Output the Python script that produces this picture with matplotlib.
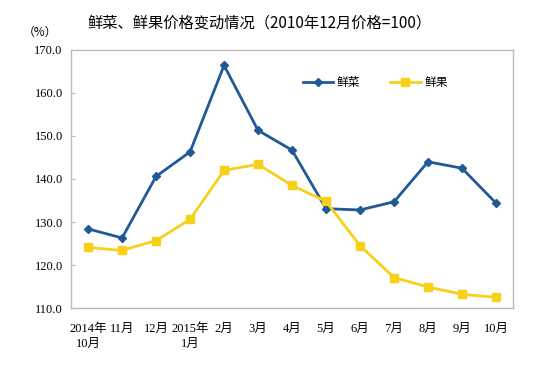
import matplotlib
matplotlib.use("Agg")
import matplotlib.pyplot as plt

categories = ["2014年\n10月", "11月", "12月", "2015年\n1月", "2月", "3月", "4月", "5月",
              "6月", "7月", "8月", "9月", "10月"]
vegetables = [128.4, 126.3, 140.6, 146.3, 166.4, 151.3, 146.7, 133.1, 132.8, 134.7, 144.0, 142.5, 134.4]
fruits = [124.1, 123.4, 125.7, 130.6, 142.0, 143.4, 138.5, 134.8, 124.5, 117.1, 114.9, 113.2, 112.5]
yticks = [110, 120, 130, 140, 150, 160, 170]

plt.rcParams['font.family'] = ['Liberation Serif', 'Noto Sans CJK SC']

fig = plt.figure(figsize=(5.51, 3.78), dpi=100)
ax = fig.add_axes([0.129, 0.185, 0.802, 0.683])
x = list(range(len(categories)))
ax.plot(x, vegetables, color='#1f5a96', lw=2, marker='D', ms=4.5, label='鲜菜')
ax.plot(x, fruits, color='#f7d117', lw=2, marker='s', ms=6, label='鲜果')
ax.set_xlim(-0.5, len(categories) - 0.5)
ax.set_ylim(110, 170)
ax.set_yticks(yticks)
ax.set_yticklabels([f"{v:.1f}" for v in yticks], fontsize=9)
ax.set_xticks(x)
ax.set_xticklabels(categories, fontsize=9, linespacing=1.3)
ax.tick_params(axis='x', length=0, pad=11)
ax.tick_params(axis='y', direction='in', length=3, color='#bbbbbb', pad=6)
for s in ax.spines.values():
    s.set_color('#bbbbbb')
    s.set_linewidth(1)

leg = ax.legend(loc='upper left', bbox_to_anchor=(0.5, 0.94), ncol=2, frameon=False,
                prop={'family': ['Noto Sans CJK SC'], 'size': 8.5}, handlelength=2.6,
                columnspacing=2.5, handletextpad=0.3)

fig.text(0.471, 0.94, "鲜菜、鲜果价格变动情况（2010年12月价格=100）", ha='center', va='center',
         fontsize=11, family=['Noto Sans CJK SC'])
fig.text(0.073, 0.915, "（%）", ha='center', va='center', fontsize=8.5, family=['Noto Sans CJK SC'])

fig.savefig("out.png", dpi=100)
